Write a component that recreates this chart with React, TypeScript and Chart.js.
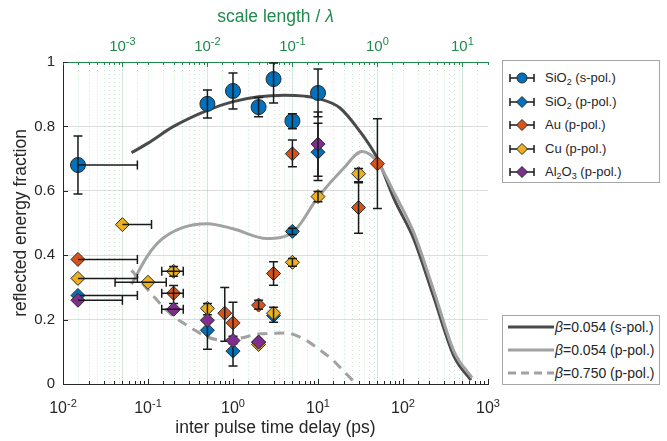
import React, { useEffect, useRef } from 'react';
import { Chart, registerables } from 'chart.js';

Chart.register(...registerables);

const FONT = '"Liberation Sans", Arial, Helvetica, sans-serif';
const AXIS_COLOR = '#262626';
const TOP_COLOR = '#1f8a4c';

// axis ranges
const X_MIN = 0.01;
const X_MAX = 1000;
const Y_MIN = 0;
const Y_MAX = 1;
const Y_STEP = 0.2;
// scale length / lambda = delay / DELAY_PER_SCALE_LENGTH
const DELAY_PER_SCALE_LENGTH = 50;

// ---------- measured points ----------
// SiO2 (s-pol.)
const SIO2S_X = [0.015, 0.5, 1, 2, 3, 5, 10];
const SIO2S_Y = [0.68, 0.87, 0.91, 0.86, 0.947, 0.817, 0.904];
const SIO2S_YLO = [0.59, 0.826, 0.854, 0.83, 0.873, 0.793, 0.83];
const SIO2S_YHI = [0.77, 0.913, 0.966, 0.89, 0.997, 0.839, 0.978];
const SIO2S_XLO = [null, null, null, null, null, null, null];
const SIO2S_XHI = [0.075, null, null, null, null, null, null];

// SiO2 (p-pol.)
const SIO2P_X = [0.015, 0.5, 1, 2, 3, 5, 10];
const SIO2P_Y = [0.275, 0.167, 0.102, 0.13, 0.213, 0.474, 0.72];
const SIO2P_YLO = [null, 0.108, 0.056, null, null, 0.464, 0.632];
const SIO2P_YHI = [null, 0.235, 0.148, null, null, 0.484, 0.81];
const SIO2P_XLO = [null, null, null, null, null, null, null];
const SIO2P_XHI = [0.075, null, null, null, null, null, null];

// Au (p-pol.)
const AU_X = [0.015, 0.2, 0.8, 1, 2, 3, 5, 30, 50];
const AU_Y = [0.387, 0.282, 0.22, 0.19, 0.245, 0.343, 0.715, 0.548, 0.684];
const AU_YLO = [null, 0.25, 0.133, 0.125, 0.232, 0.307, 0.675, 0.468, 0.545];
const AU_YHI = [null, 0.306, 0.3, 0.254, 0.26, 0.38, 0.758, 0.628, 0.824];
const AU_XLO = [null, 0.145, null, null, null, null, null, null, null];
const AU_XHI = [0.075, 0.26, null, null, null, null, null, null, null];

// Cu (p-pol.)
const CU_X = [0.015, 0.05, 0.1, 0.2, 0.5, 2, 3, 5, 10, 30];
const CU_Y = [0.328, 0.495, 0.316, 0.35, 0.235, 0.123, 0.22, 0.378, 0.582, 0.653];
const CU_YLO = [null, null, null, 0.335, 0.215, null, 0.192, 0.366, 0.566, 0.625];
const CU_YHI = [null, null, null, 0.365, 0.25, null, 0.238, 0.39, 0.598, 0.669];
const CU_XLO = [null, null, 0.041, 0.145, null, null, null, null, null, null];
const CU_XHI = [0.075, 0.11, 0.164, 0.26, null, null, null, null, null, null];

// Al2O3 (p-pol.)
const AL_X = [0.015, 0.2, 0.5, 1, 2, 10];
const AL_Y = [0.26, 0.232, 0.198, 0.135, 0.13, 0.745];
const AL_YLO = [null, null, null, null, null, 0.645];
const AL_YHI = [null, null, null, null, null, 0.845];
const AL_XLO = [null, 0.145, null, null, null, null];
const AL_XHI = [0.05, 0.26, null, null, null, null];

// ---------- model curves ----------
const BETA054S_X = [0.064, 0.1, 0.2, 0.5, 1, 2, 4, 7, 10, 18, 30, 50, 80, 134, 230, 400, 630];
const BETA054S_Y = [0.718, 0.748, 0.8, 0.85, 0.877, 0.892, 0.897, 0.894, 0.887, 0.858, 0.79, 0.7, 0.57, 0.45, 0.27, 0.085, 0.012];

const BETA054P_X = [0.064, 0.1, 0.14, 0.25, 0.5, 1, 2.5, 5, 10, 20, 33, 50, 80, 134, 230, 400, 646];
const BETA054P_Y = [0.31, 0.4, 0.446, 0.485, 0.498, 0.482, 0.452, 0.47, 0.58, 0.67, 0.722, 0.69, 0.59, 0.47, 0.29, 0.1, 0.02];

const BETA750P_X = [0.064, 0.113, 0.18, 0.31, 0.5, 0.77, 1.2, 2.1, 4.3, 7.2, 10, 15, 20, 27];
const BETA750P_Y = [0.353, 0.276, 0.22, 0.177, 0.146, 0.136, 0.142, 0.156, 0.158, 0.136, 0.11, 0.074, 0.04, 0.005];

const C_BLUE = '#0072BD';
const C_RED = '#D95319';
const C_YELLOW = '#EDB120';
const C_PURPLE = '#7E2F8E';

const toPts = (xs: number[], ys: number[]) => xs.map((x, i) => ({ x, y: ys[i] }));

const isMajor = (v: number) => Math.abs(Math.log10(v) - Math.round(Math.log10(v))) < 1e-6;

const errorBarPlugin = {
  id: 'errorBars',
  afterDatasetDraw(chart: any, args: any) {
    const ds: any = chart.data.datasets[args.index];
    const eb = ds.errorBars;
    if (!eb) return;
    const xs = chart.scales.x;
    const ys = chart.scales.y;
    const ctx = chart.ctx;
    const cap = 4.5;
    ctx.save();
    ctx.strokeStyle = '#1a1a1a';
    ctx.lineWidth = 1.5;
    ds.data.forEach((p: any, i: number) => {
      const px = xs.getPixelForValue(p.x);
      const py = ys.getPixelForValue(p.y);
      if (eb.yLo[i] != null && eb.yHi[i] != null) {
        const y1 = ys.getPixelForValue(eb.yLo[i]);
        const y2 = ys.getPixelForValue(eb.yHi[i]);
        ctx.beginPath();
        ctx.moveTo(px, y1); ctx.lineTo(px, y2);
        ctx.moveTo(px - cap, y1); ctx.lineTo(px + cap, y1);
        ctx.moveTo(px - cap, y2); ctx.lineTo(px + cap, y2);
        ctx.stroke();
      }
      if (eb.xLo[i] != null || eb.xHi[i] != null) {
        const x1 = eb.xLo[i] != null ? xs.getPixelForValue(eb.xLo[i]) : px;
        const x2 = eb.xHi[i] != null ? xs.getPixelForValue(eb.xHi[i]) : px;
        ctx.beginPath();
        ctx.moveTo(x1, py); ctx.lineTo(x2, py);
        if (eb.xLo[i] != null) { ctx.moveTo(x1, py - cap); ctx.lineTo(x1, py + cap); }
        if (eb.xHi[i] != null) { ctx.moveTo(x2, py - cap); ctx.lineTo(x2, py + cap); }
        ctx.stroke();
      }
    });
    ctx.restore();
  },
};

const axesPlugin = {
  id: 'axesExtras',
  beforeDatasetsDraw(chart: any) {
    const ctx = chart.ctx;
    const { left, right, top, bottom } = chart.chartArea;
    const xb = chart.scales.x;
    const xt = chart.scales.x2;
    const ys = chart.scales.y;
    ctx.save();
    // vertical grid from the top (scale length) axis
    xt.ticks.forEach((t: any) => {
      const px = Math.round(xt.getPixelForValue(t.value)) + 0.5;
      if (px <= left + 1 || px >= right - 1) return;
      ctx.beginPath();
      if (isMajor(t.value)) {
        ctx.setLineDash([]);
        ctx.strokeStyle = 'rgba(31,138,76,0.2)';
      } else {
        ctx.setLineDash([1, 3]);
        ctx.strokeStyle = 'rgba(31,138,76,0.22)';
      }
      ctx.lineWidth = 1;
      ctx.moveTo(px, top);
      ctx.lineTo(px, bottom);
      ctx.stroke();
    });
    ctx.setLineDash([]);
    // inward ticks bottom
    ctx.strokeStyle = AXIS_COLOR;
    ctx.lineWidth = 1;
    xb.ticks.forEach((t: any) => {
      const px = Math.round(xb.getPixelForValue(t.value)) + 0.5;
      const len = isMajor(t.value) ? 5 : 3;
      ctx.beginPath();
      ctx.moveTo(px, bottom);
      ctx.lineTo(px, bottom - len);
      ctx.stroke();
    });
    // inward ticks top
    ctx.strokeStyle = TOP_COLOR;
    xt.ticks.forEach((t: any) => {
      const px = Math.round(xt.getPixelForValue(t.value)) + 0.5;
      const len = isMajor(t.value) ? 5 : 3;
      ctx.beginPath();
      ctx.moveTo(px, top);
      ctx.lineTo(px, top + len);
      ctx.stroke();
    });
    // inward ticks left
    ctx.strokeStyle = AXIS_COLOR;
    ys.ticks.forEach((t: any) => {
      const py = Math.round(ys.getPixelForValue(t.value)) + 0.5;
      ctx.beginPath();
      ctx.moveTo(left, py);
      ctx.lineTo(left + 5, py);
      ctx.stroke();
    });
    ctx.restore();
  },
  afterDraw(chart: any) {
    const ctx = chart.ctx;
    const drawDecades = (scale: any, baseline: number, size: number, color: string) => {
      scale.ticks.forEach((t: any) => {
        if (!isMajor(t.value)) return;
        const e = Math.round(Math.log10(t.value));
        const px = scale.getPixelForValue(t.value);
        ctx.font = `${size}px ${FONT}`;
        const bw = ctx.measureText('10').width;
        const es = Math.round(size * 0.7);
        ctx.font = `${es}px ${FONT}`;
        const expText = String(e);
        const ew = ctx.measureText(expText).width;
        const x0 = px - (bw + ew) / 2;
        ctx.fillStyle = color;
        ctx.textAlign = 'left';
        ctx.textBaseline = 'alphabetic';
        ctx.font = `${size}px ${FONT}`;
        ctx.fillText('10', x0, baseline);
        ctx.font = `${es}px ${FONT}`;
        ctx.fillText(expText, x0 + bw, baseline - size * 0.4);
      });
    };
    ctx.save();
    drawDecades(chart.scales.x, 413, 16, AXIS_COLOR);
    drawDecades(chart.scales.x2, 51, 15, TOP_COLOR);
    // top axis title
    const { left, right } = chart.chartArea;
    const cx = (left + right) / 2;
    const a = 'scale length / ';
    const fs = 17.5;
    ctx.font = `${fs}px ${FONT}`;
    const wa = ctx.measureText(a).width;
    ctx.font = `italic ${fs}px ${FONT}`;
    const wb = ctx.measureText('λ').width;
    const x0 = cx - (wa + wb) / 2;
    ctx.fillStyle = TOP_COLOR;
    ctx.textAlign = 'left';
    ctx.textBaseline = 'alphabetic';
    ctx.font = `${fs}px ${FONT}`;
    ctx.fillText(a, x0, 22);
    ctx.font = `italic ${fs}px ${FONT}`;
    ctx.fillText('λ', x0 + wa, 22);
    ctx.restore();
  },
};

const pointSeries = (
  label: string,
  xs: number[], ys: number[],
  yLo: (number | null)[], yHi: (number | null)[],
  xLo: (number | null)[], xHi: (number | null)[],
  color: string, style: string, radius: number, order: number,
) => ({
  label,
  data: toPts(xs, ys),
  showLine: false,
  pointStyle: style,
  pointRadius: radius,
  pointHoverRadius: radius,
  pointBackgroundColor: color,
  pointBorderColor: '#2a2a2a',
  pointBorderWidth: 1,
  backgroundColor: color,
  borderColor: '#2a2a2a',
  order,
  errorBars: { yLo, yHi, xLo, xHi },
});

const curveSeries = (label: string, xs: number[], ys: number[], color: string, dash: number[], order: number) => ({
  label,
  data: toPts(xs, ys),
  showLine: true,
  pointRadius: 0,
  borderColor: color,
  backgroundColor: color,
  borderWidth: 3,
  borderDash: dash,
  cubicInterpolationMode: 'monotone',
  fill: false,
  order,
});

function ErrIcon({ color, shape }: { color: string; shape: 'circle' | 'diamond' }) {
  return (
    <svg width="28" height="14" style={{ position: 'absolute', left: 5, top: -7 }}>
      <path d="M2 7 H26 M2 3 V11 M26 3 V11" stroke="#1a1a1a" strokeWidth="1.5" fill="none" />
      {shape === 'circle' ? (
        <circle cx="14" cy="7" r="5" fill={color} stroke="#2a2a2a" strokeWidth="1" />
      ) : (
        <path d="M14 1.5 L19.5 7 L14 12.5 L8.5 7 Z" fill={color} stroke="#2a2a2a" strokeWidth="1" />
      )}
    </svg>
  );
}

const subStyle: React.CSSProperties = { fontSize: 9, position: 'relative', top: 3, verticalAlign: 'baseline' };

export default function App() {
  const canvasRef = useRef<HTMLCanvasElement | null>(null);

  useEffect(() => {
    if (!canvasRef.current) return;
    const chart = new Chart(canvasRef.current, {
      type: 'scatter',
      data: {
        datasets: [
          curveSeries('β=0.054 (s-pol.)', BETA054S_X, BETA054S_Y, '#4a4a4a', [], 100),
          curveSeries('β=0.054 (p-pol.)', BETA054P_X, BETA054P_Y, '#a2a2a2', [], 99),
          curveSeries('β=0.750 (p-pol.)', BETA750P_X, BETA750P_Y, '#a2a2a2', [10, 7], 98),
          pointSeries('SiO2 (s-pol.)', SIO2S_X, SIO2S_Y, SIO2S_YLO, SIO2S_YHI, SIO2S_XLO, SIO2S_XHI, C_BLUE, 'circle', 7.5, 5),
          pointSeries('SiO2 (p-pol.)', SIO2P_X, SIO2P_Y, SIO2P_YLO, SIO2P_YHI, SIO2P_XLO, SIO2P_XHI, C_BLUE, 'rectRot', 7, 4),
          pointSeries('Au (p-pol.)', AU_X, AU_Y, AU_YLO, AU_YHI, AU_XLO, AU_XHI, C_RED, 'rectRot', 7, 3),
          pointSeries('Cu (p-pol.)', CU_X, CU_Y, CU_YLO, CU_YHI, CU_XLO, CU_XHI, C_YELLOW, 'rectRot', 7, 2),
          pointSeries('Al2O3 (p-pol.)', AL_X, AL_Y, AL_YLO, AL_YHI, AL_XLO, AL_XHI, C_PURPLE, 'rectRot', 7, 1),
        ] as any,
      },
      options: {
        responsive: false,
        animation: false,
        devicePixelRatio: 1,
        layout: { padding: { left: 0, right: 179, top: 0, bottom: 0 } },
        plugins: { legend: { display: false }, tooltip: { enabled: false } },
        scales: {
          x: {
            type: 'logarithmic',
            position: 'bottom',
            min: X_MIN,
            max: X_MAX,
            grid: { display: false, drawTicks: false },
            border: { display: true, color: AXIS_COLOR, width: 1 },
            ticks: { display: false },
            title: {
              display: true,
              text: 'inter pulse time delay (ps)',
              color: AXIS_COLOR,
              font: { family: FONT, size: 17.5 },
              padding: { top: 0, bottom: 2 },
            },
            afterFit: (s: any) => { s.height = 57; },
          },
          x2: {
            type: 'logarithmic',
            position: 'top',
            min: X_MIN / DELAY_PER_SCALE_LENGTH,
            max: X_MAX / DELAY_PER_SCALE_LENGTH,
            grid: { display: false, drawTicks: false },
            border: { display: true, color: TOP_COLOR, width: 1 },
            ticks: { display: false },
            afterFit: (s: any) => { s.height = 62; },
          },
          y: {
            type: 'linear',
            min: Y_MIN,
            max: Y_MAX,
            ticks: {
              stepSize: Y_STEP,
              color: AXIS_COLOR,
              font: { family: FONT, size: 15 },
              padding: 8,
              callback: (v: any) => String(Number(Number(v).toFixed(1))),
            },
            grid: {
              drawTicks: false,
              color: (c: any) => (c.tick && c.tick.value > 0.01 && c.tick.value < 0.99 ? '#dedede' : 'rgba(0,0,0,0)'),
            },
            border: { display: true, color: AXIS_COLOR, width: 1 },
            title: {
              display: true,
              text: 'reflected energy fraction',
              color: AXIS_COLOR,
              font: { family: FONT, size: 17.5 },
              padding: { top: 11, bottom: 0 },
            },
            afterFit: (s: any) => { s.width = 63; },
          },
        },
      } as any,
      plugins: [axesPlugin, errorBarPlugin],
    });
    return () => chart.destroy();
  }, []);

  const legendBox: React.CSSProperties = {
    position: 'absolute',
    left: 502,
    width: 158,
    border: '1px solid #a6a6a6',
    background: '#fff',
    boxSizing: 'border-box',
    fontFamily: FONT,
    fontSize: 13,
    color: AXIS_COLOR,
  };
  const rowText = (top: number): React.CSSProperties => ({
    position: 'absolute', left: 42, top: top - 8, whiteSpace: 'nowrap', lineHeight: '16px',
  });
  const iconRow = (top: number): React.CSSProperties => ({ position: 'absolute', left: 0, top, width: 40, height: 0 });
  const rows1 = [17, 41, 64, 88, 111];
  const rows2 = [11, 34, 57];

  return (
    <div style={{ position: 'fixed', left: 0, top: 0, width: 667, height: 441, background: '#fff' }}>
      <canvas ref={canvasRef} width={667} height={441} style={{ position: 'absolute', left: 0, top: 0, width: 667, height: 441 }} />
      <div style={{ ...legendBox, top: 60, height: 123 }}>
        <div style={iconRow(rows1[0])}><ErrIcon color={C_BLUE} shape="circle" /></div>
        <div style={rowText(rows1[0])}>SiO<sub style={subStyle}>2</sub> (s-pol.)</div>
        <div style={iconRow(rows1[1])}><ErrIcon color={C_BLUE} shape="diamond" /></div>
        <div style={rowText(rows1[1])}>SiO<sub style={subStyle}>2</sub> (p-pol.)</div>
        <div style={iconRow(rows1[2])}><ErrIcon color={C_RED} shape="diamond" /></div>
        <div style={rowText(rows1[2])}>Au (p-pol.)</div>
        <div style={iconRow(rows1[3])}><ErrIcon color={C_YELLOW} shape="diamond" /></div>
        <div style={rowText(rows1[3])}>Cu (p-pol.)</div>
        <div style={iconRow(rows1[4])}><ErrIcon color={C_PURPLE} shape="diamond" /></div>
        <div style={rowText(rows1[4])}>Al<sub style={subStyle}>2</sub>O<sub style={subStyle}>3</sub> (p-pol.)</div>
      </div>
      <div style={{ ...legendBox, top: 315, height: 70, fontSize: 14 }}>
        {[
          { color: '#4a4a4a', dash: '', text: '0.054 (s-pol.)' },
          { color: '#a2a2a2', dash: '', text: '0.054 (p-pol.)' },
          { color: '#a2a2a2', dash: '8 5', text: '0.750 (p-pol.)' },
        ].map((r, i) => (
          <React.Fragment key={i}>
            <svg width="46" height="6" style={{ position: 'absolute', left: 5, top: rows2[i] - 3 }}>
              <line x1="0" y1="3" x2="46" y2="3" stroke={r.color} strokeWidth="3" strokeDasharray={r.dash || undefined} />
            </svg>
            <div style={{ position: 'absolute', left: 52, top: rows2[i] - 9, whiteSpace: 'nowrap', lineHeight: '18px' }}>
              <i>β</i>={r.text}
            </div>
          </React.Fragment>
        ))}
      </div>
    </div>
  );
}
